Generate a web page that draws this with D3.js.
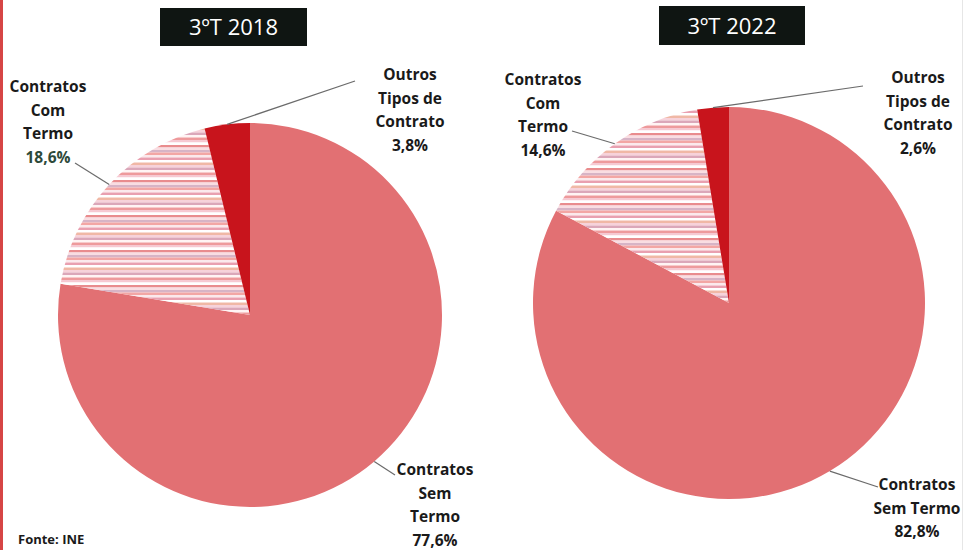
<!DOCTYPE html>
<html>
<head>
<meta charset="utf-8">
<script src="https://cdn.jsdelivr.net/npm/d3@7"></script>
<style>
  body { margin: 0; background: #fff; }
  svg { display: block; font-family: "Open Sans", "Liberation Sans", sans-serif; }
</style>
</head>
<body>
<div id="chart"></div>
<script>
// data
const categories = ["Contratos Sem Termo", "Contratos Com Termo", "Outros Tipos de Contrato"];
const periods = ["3ºT 2018", "3ºT 2022"];
const values2018 = [77.6, 18.6, 3.8];
const values2022 = [82.8, 14.6, 2.6];
const labels2018 = [["Contratos", "Sem", "Termo", "77,6%"], ["Contratos", "Com", "Termo", "18,6%"], ["Outros", "Tipos de", "Contrato", "3,8%"]];
const labels2022 = [["Contratos", "Sem Termo", "82,8%"], ["Contratos", "Com", "Termo", "14,6%"], ["Outros", "Tipos de", "Contrato", "2,6%"]];

const width = 965, height = 550;

// layout for each pie
const pies = [
  { title: periods[0], values: values2018, labels: labels2018,
    cx: 250, cy: 315, r: 192, box: [160, 8, 147, 38],
    labelPos: [[435, 475], [48, 92], [410, 80]] },
  { title: periods[1], values: values2022, labels: labels2022,
    cx: 729, cy: 303, r: 196, box: [659, 6, 146, 39],
    labelPos: [[917, 490], [543, 85], [918, 83]] }
];

// leader end near the label
const leaderEnds = [
  [[395, 475], [75, 163], [355, 81]],
  [[878, 487], [572, 131], [863, 86]]
];

const colors = ["#e27073", "url(#stripes)", "#c8141c"];
const stripeColors = ["#f6c9d2", "#ffffff", "#e98c8e", "#f9dde2", "#d7b4c6", "#f3a6a4", "#fbe9ec", "#e9a0b0", "#ffffff", "#f0b8a6", "#f7d2da", "#dba7b9", "#fff4f4", "#ee9a9c"];

const svg = d3.select("#chart").append("svg")
  .attr("width", width)
  .attr("height", height);

// striped pattern for "Com Termo"
const pat = svg.append("defs").append("pattern")
  .attr("id", "stripes")
  .attr("patternUnits", "userSpaceOnUse")
  .attr("width", 10)
  .attr("height", stripeColors.length * 2.5);
pat.selectAll("rect")
  .data(stripeColors)
  .enter().append("rect")
    .attr("x", 0)
    .attr("y", (d, i) => i * 2.5)
    .attr("width", 10)
    .attr("height", 2.5)
    .attr("fill", d => d);

// red scan border at the left
svg.append("rect").attr("x", 0).attr("y", 0).attr("width", 3).attr("height", height).attr("fill", "#d64545");
svg.append("rect").attr("x", 962).attr("y", 0).attr("width", 1).attr("height", height).attr("fill", "#e6e6e6");

const pie = d3.pie().sort(null).value(d => d);

pies.forEach((p, pi) => {
  const g = svg.append("g");
  const arc = d3.arc().innerRadius(0).outerRadius(p.r);

  // title box
  g.append("rect")
    .attr("x", p.box[0]).attr("y", p.box[1])
    .attr("width", p.box[2]).attr("height", p.box[3])
    .attr("fill", "#0f1512");
  g.append("text")
    .attr("x", p.box[0] + p.box[2] / 2)
    .attr("y", p.box[1] + p.box[3] / 2 + 8)
    .attr("text-anchor", "middle")
    .attr("fill", "#fff")
    .attr("font-size", 22)
    .text(p.title);

  const arcs = pie(p.values);
  const slices = g.append("g").attr("transform", `translate(${p.cx},${p.cy})`);
  slices.selectAll("path")
    .data(arcs)
    .enter().append("path")
      .attr("d", arc)
      .attr("fill", (d, i) => colors[i]);

  // leader lines from the mid angle of each slice
  arcs.forEach((d, i) => {
    const a = (d.startAngle + d.endAngle) / 2;
    const x0 = p.cx + Math.sin(a) * p.r;
    const y0 = p.cy - Math.cos(a) * p.r;
    const end = leaderEnds[pi][i];
    g.append("line")
      .attr("x1", x0).attr("y1", y0)
      .attr("x2", end[0]).attr("y2", end[1])
      .attr("stroke", "#6b6b6b")
      .attr("stroke-width", 1.2);
  });

  // labels
  p.labels.forEach((lines, i) => {
    const pos = p.labelPos[i];
    const t = g.append("text")
      .attr("text-anchor", "middle")
      .attr("font-size", 15.5)
      .attr("font-weight", "bold")
      .attr("fill", "#1a1a1a");
    lines.forEach((s, k) => {
      t.append("tspan")
        .attr("x", pos[0])
        .attr("y", pos[1] + k * 23.5)
        .attr("fill", (pi === 0 && i === 1 && k === lines.length - 1) ? "#2d4a3a" : null)
        .text(s);
    });
  });
});

svg.append("text")
  .attr("x", 18)
  .attr("y", 544)
  .attr("font-size", 13)
  .attr("font-weight", "bold")
  .attr("fill", "#1a1a1a")
  .text("Fonte: INE");
</script>
</body>
</html>
